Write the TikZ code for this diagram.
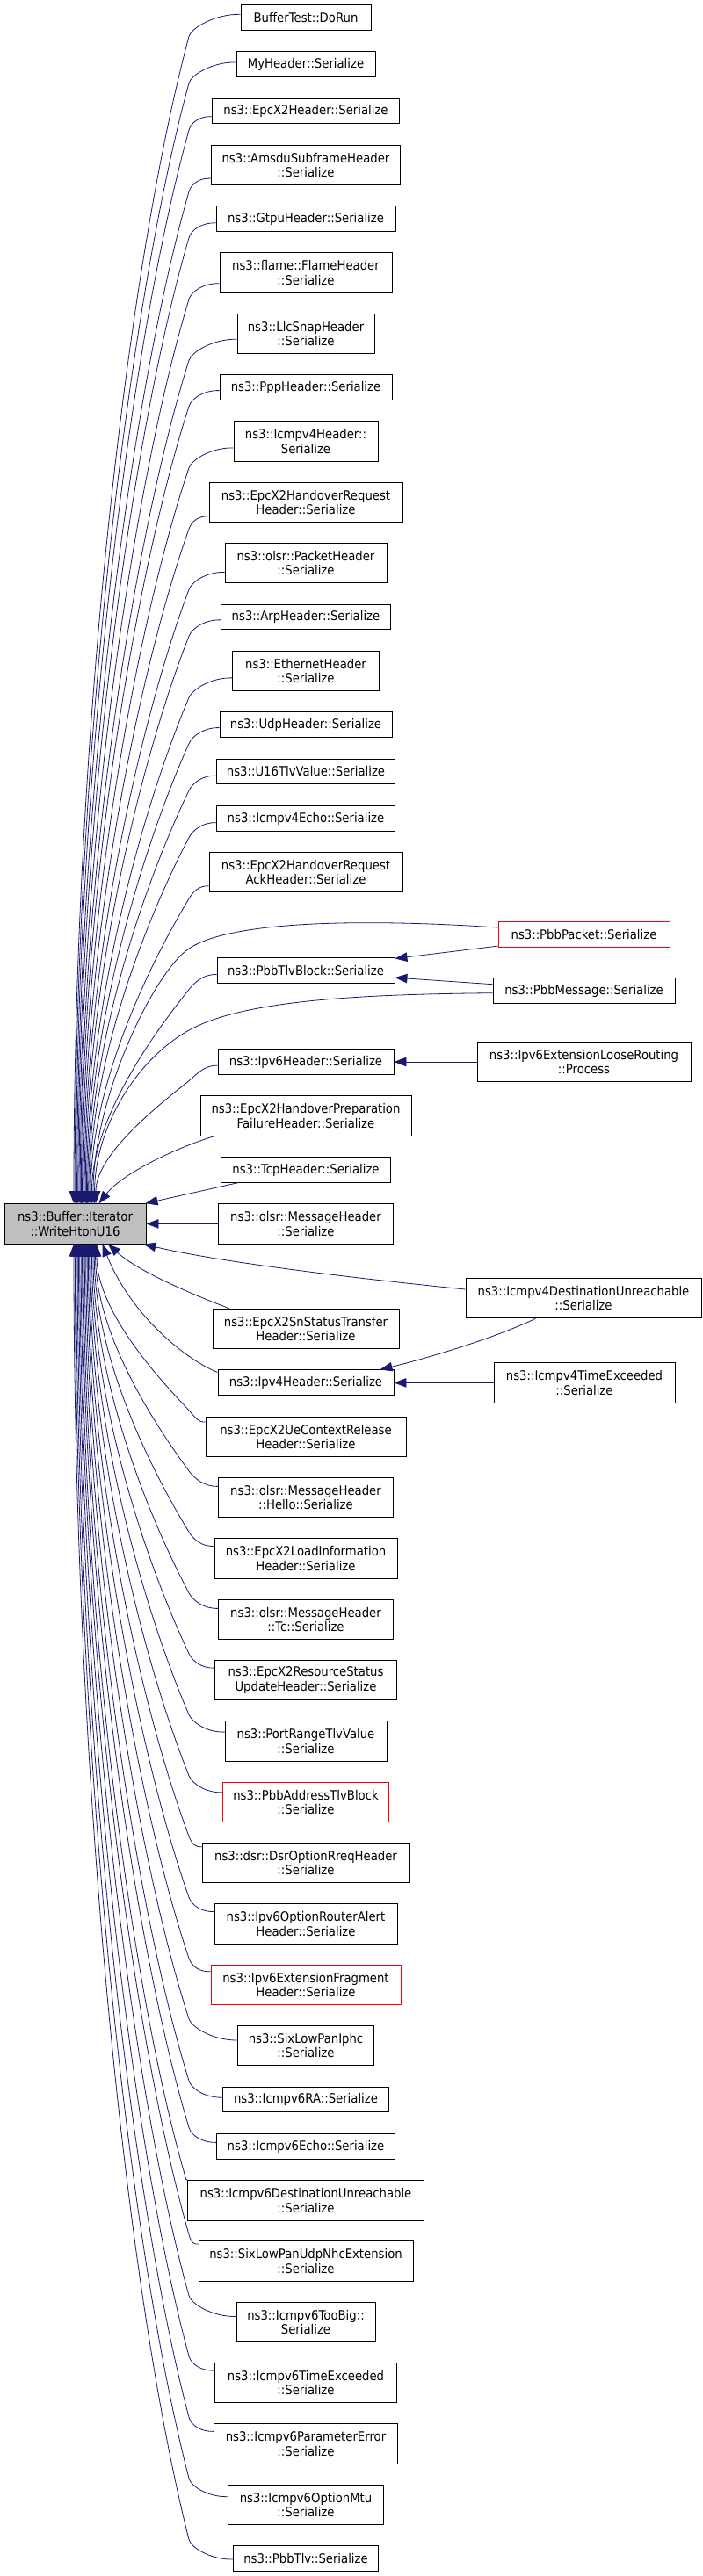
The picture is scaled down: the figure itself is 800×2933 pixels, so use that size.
\documentclass[tikz,border=0pt]{standalone}
\usepackage{fontspec}
\setmainfont{DejaVu Sans}[FakeStretch=0.9]
\usetikzlibrary{arrows.meta,calc}
\definecolor{edgeblue}{HTML}{191970}
\definecolor{maingray}{HTML}{BFBFBF}
\begin{document}
\begin{tikzpicture}[x=1pt,y=-1pt,
  box/.style={draw=black,line width=0.9pt,fill=white,align=center,inner sep=1pt,
    font=\fontsize{14.7}{16.7}\selectfont},
  sbox/.style={box,minimum height=28.3},
  dbox/.style={box,minimum height=45.5},
  redbox/.style={draw=red},
  edge/.style={draw=edgeblue,line width=0.8pt,-{Triangle[length=14pt,width=10.5pt]}}]
\useasboundingbox (0,0) rectangle (800,2933);

% ---- column nodes (callers) ----
\node[sbox,minimum width=148] (bt) at (348,19.9) {BufferTest::DoRun};
\node[sbox,minimum width=158] (mh) at (348,73) {MyHeader::Serialize};
\node[sbox,minimum width=213] (x2h) at (348,126.5) {ns3::EpcX2Header::Serialize};
\node[dbox,minimum width=215] (ams) at (348,188) {ns3::AmsduSubframeHeader\\::Serialize};
\node[sbox,minimum width=204] (gtp) at (348,249) {ns3::GtpuHeader::Serialize};
\node[dbox,minimum width=196] (fla) at (348,310.5) {ns3::flame::FlameHeader\\::Serialize};
\node[dbox,minimum width=156] (llc) at (348,380) {ns3::LlcSnapHeader\\::Serialize};
\node[sbox,minimum width=196] (ppp) at (348,441) {ns3::PppHeader::Serialize};
\node[dbox,minimum width=164] (i4h) at (348,502.5) {ns3::Icmpv4Header::\\Serialize};
\node[dbox,minimum width=220] (hrq) at (348,572) {ns3::EpcX2HandoverRequest\\Header::Serialize};
\node[dbox,minimum width=184] (opk) at (348,641) {ns3::olsr::PacketHeader\\::Serialize};
\node[sbox,minimum width=193] (arp) at (348,702.7) {ns3::ArpHeader::Serialize};
\node[dbox,minimum width=167] (eth) at (348,764) {ns3::EthernetHeader\\::Serialize};
\node[sbox,minimum width=196] (udp) at (348,825) {ns3::UdpHeader::Serialize};
\node[sbox,minimum width=203] (u16) at (348,878.5) {ns3::U16TlvValue::Serialize};
\node[sbox,minimum width=203] (i4e) at (348,932) {ns3::Icmpv4Echo::Serialize};
\node[dbox,minimum width=220] (hra) at (348,993) {ns3::EpcX2HandoverRequest\\AckHeader::Serialize};
\node[sbox,minimum width=195,redbox] (pp) at (664.5,1064) {ns3::PbbPacket::Serialize};
\node[sbox,minimum width=202] (ptb) at (348,1105) {ns3::PbbTlvBlock::Serialize};
\node[sbox,minimum width=207] (pm) at (664.5,1128) {ns3::PbbMessage::Serialize};
\node[sbox,minimum width=200] (i6h) at (348,1209) {ns3::Ipv6Header::Serialize};
\node[dbox,minimum width=243] (lr) at (664.5,1209) {ns3::Ipv6ExtensionLooseRouting\\::Process};
\node[dbox,minimum width=240] (hp) at (348,1270.3) {ns3::EpcX2HandoverPreparation\\FailureHeader::Serialize};
\node[sbox,minimum width=193] (tcp) at (348,1332) {ns3::TcpHeader::Serialize};
\node[dbox,minimum width=161,fill=maingray] (main) at (85.5,1393.4) {ns3::Buffer::Iterator\\::WriteHtonU16};
\node[dbox,minimum width=199] (omh) at (348,1393.4) {ns3::olsr::MessageHeader\\::Serialize};
\node[dbox,minimum width=268] (i4du) at (664,1478) {ns3::Icmpv4DestinationUnreachable\\::Serialize};
\node[dbox,minimum width=212] (sn) at (348,1513) {ns3::EpcX2SnStatusTransfer\\Header::Serialize};
\node[sbox,minimum width=200] (i4) at (348,1574) {ns3::Ipv4Header::Serialize};
\node[dbox,minimum width=206] (i4te) at (665,1574.4) {ns3::Icmpv4TimeExceeded\\::Serialize};
\node[dbox,minimum width=228] (ue) at (348,1636) {ns3::EpcX2UeContextRelease\\Header::Serialize};
\node[dbox,minimum width=199] (hel) at (348,1705) {ns3::olsr::MessageHeader\\::Hello::Serialize};
\node[dbox,minimum width=208] (li) at (348,1774.5) {ns3::EpcX2LoadInformation\\Header::Serialize};
\node[dbox,minimum width=199] (tc) at (348,1844) {ns3::olsr::MessageHeader\\::Tc::Serialize};
\node[dbox,minimum width=207] (rs) at (348,1913) {ns3::EpcX2ResourceStatus\\UpdateHeader::Serialize};
\node[dbox,minimum width=184] (pr) at (348,1982.5) {ns3::PortRangeTlvValue\\::Serialize};
\node[dbox,minimum width=189,redbox] (pat) at (348,2052) {ns3::PbbAddressTlvBlock\\::Serialize};
\node[dbox,minimum width=236] (dsr) at (348,2121) {ns3::dsr::DsrOptionRreqHeader\\::Serialize};
\node[dbox,minimum width=208] (ra6) at (348,2190.5) {ns3::Ipv6OptionRouterAlert\\Header::Serialize};
\node[dbox,minimum width=216,redbox] (frag) at (348,2260) {ns3::Ipv6ExtensionFragment\\Header::Serialize};
\node[dbox,minimum width=155] (iphc) at (348,2329) {ns3::SixLowPanIphc\\::Serialize};
\node[sbox,minimum width=189] (i6ra) at (348,2390.7) {ns3::Icmpv6RA::Serialize};
\node[sbox,minimum width=203] (i6e) at (348,2444) {ns3::Icmpv6Echo::Serialize};
\node[dbox,minimum width=269] (i6du) at (348,2505.3) {ns3::Icmpv6DestinationUnreachable\\::Serialize};
\node[dbox,minimum width=244] (nhc) at (348,2574.5) {ns3::SixLowPanUdpNhcExtension\\::Serialize};
\node[dbox,minimum width=158] (tb) at (348,2644) {ns3::Icmpv6TooBig::\\Serialize};
\node[dbox,minimum width=207] (te) at (348,2713) {ns3::Icmpv6TimeExceeded\\::Serialize};
\node[dbox,minimum width=209] (pe) at (348,2782.5) {ns3::Icmpv6ParameterError\\::Serialize};
\node[dbox,minimum width=177] (mtu) at (348,2852) {ns3::Icmpv6OptionMtu\\::Serialize};
\node[sbox,minimum width=165] (tlv) at (348,2913) {ns3::PbbTlv::Serialize};

% ---- generic edges from boxes above the main node ----
\foreach \nm/\ww/\cc/\hh/\tx in {bt/148/19.9/28.3/84, mh/158/73/28.3/85.2,
  x2h/213/126.5/28.3/86.4, ams/215/188/45.5/87.6, gtp/204/249/28.3/88.8,
  fla/196/310.5/45.5/90, llc/156/380/45.5/91.2, ppp/196/441/28.3/92.4,
  i4h/164/502.5/45.5/93.6, hrq/220/572/45.5/94.8, opk/184/641/45.5/96,
  arp/193/702.7/28.3/97.2, eth/167/764/45.5/98.4, udp/196/825/28.3/99.6,
  u16/203/878.5/28.3/100.8, i4e/203/932/28.3/102, hra/220/993/45.5/103.2,
  ptb/202/1105/28.3/104.4, i6h/200/1209/28.3/109}{
  \pgfmathsetmacro\xl{348-\ww/2}
  \pgfmathsetmacro\bx{min(215,\xl-4)}
  \pgfmathsetmacro\off{8+(\xl-240)*0.3}
  \pgfmathsetmacro\sy{\cc+\hh/2-\off}
  \pgfmathsetmacro\dd{8+(\xl-\bx)*0.3}
  \pgfmathsetmacro\by{\sy+\dd}
  \pgfmathsetmacro\dy{1370.65-\by}
  \pgfmathsetmacro\sz{1.5*(\tx-\bx)/\dy-0.12}
  \pgfmathsetmacro\cax{\bx+(\sz)*0.2*\dy}
  \pgfmathsetmacro\cay{\by+0.2*\dy}
  \pgfmathsetmacro\cby{1370.65-0.4*\dy}
  \pgfmathsetmacro\nn{sqrt((\sz)*(\sz)+1)}
  \pgfmathsetmacro\pax{(\xl+\bx)/2}
  \pgfmathsetmacro\pbx{\bx-10*(\sz)/\nn}
  \pgfmathsetmacro\pby{\by-10/\nn}
  \pgfmathsetmacro\sh{\tx-85.5}
  \draw[edge] ([yshift=\off pt]\nm.south west) .. controls (\pax,\sy) and (\pbx,\pby) .. (\bx,\by)
     .. controls (\cax,\cay) and (\tx,\cby) .. ([xshift=\sh pt]main.north);
}

% ---- generic edges from boxes below the main node ----
\foreach \nm/\ww/\cc/\hh/\tx in {ue/228/1636/45.5/110, hel/199/1705/45.5/108.6,
  li/208/1774.5/45.5/107.3, tc/199/1844/45.5/105.9, rs/207/1913/45.5/104.5,
  pr/184/1982.5/45.5/103.2, pat/189/2052/45.5/101.8, dsr/236/2121/45.5/100.4,
  ra6/208/2190.5/45.5/99.1, frag/216/2260/45.5/97.7, iphc/155/2329/45.5/96.3,
  i6ra/189/2390.7/28.3/94.9, i6e/203/2444/28.3/93.6, i6du/269/2505.3/45.5/92.2,
  nhc/244/2574.5/45.5/90.8, tb/158/2644/45.5/89.5, te/207/2713/45.5/88.1,
  pe/209/2782.5/45.5/86.7, mtu/177/2852/45.5/85.4, tlv/165/2913/28.3/84}{
  \pgfmathsetmacro\xl{348-\ww/2}
  \pgfmathsetmacro\bx{min(215,\xl-4)}
  \pgfmathsetmacro\off{8+(\xl-240)*0.3}
  \pgfmathsetmacro\sy{\cc-\hh/2+\off}
  \pgfmathsetmacro\dd{8+(\xl-\bx)*0.3}
  \pgfmathsetmacro\by{\sy-\dd}
  \pgfmathsetmacro\dy{\by-1416.15}
  \pgfmathsetmacro\sz{1.5*(\tx-\bx)/\dy-0.12}
  \pgfmathsetmacro\cax{\bx+(\sz)*0.2*\dy}
  \pgfmathsetmacro\cay{\by-0.2*\dy}
  \pgfmathsetmacro\cby{1416.15+0.4*\dy}
  \pgfmathsetmacro\nn{sqrt((\sz)*(\sz)+1)}
  \pgfmathsetmacro\pax{(\xl+\bx)/2}
  \pgfmathsetmacro\pbx{\bx-10*(\sz)/\nn}
  \pgfmathsetmacro\pby{\by+10/\nn}
  \pgfmathsetmacro\sh{\tx-85.5}
  \pgfmathsetmacro\noff{-\off}
  \draw[edge] ([yshift=\noff pt]\nm.north west) .. controls (\pax,\sy) and (\pbx,\pby) .. (\bx,\by)
     .. controls (\cax,\cay) and (\tx,\cby) .. ([xshift=\sh pt]main.south);
}

% ---- special edges ----
\draw[edge] ([yshift=8pt]pp.west) .. controls (400,1045) and (260,1050) .. (215,1080)
   .. controls (175,1107) and (106,1250) .. ([xshift=20.5pt]main.north);
\draw[edge] ([yshift=1.5pt]pp.south west) -- ([yshift=-1pt]ptb.north east);
\draw[edge] ([yshift=7.3pt]pm.west) -- ([yshift=6.5pt]ptb.south east);
\draw[edge] ([yshift=-2.7pt]pm.west) .. controls (420,1132) and (290,1138) .. (225,1168)
   .. controls (160,1198) and (108,1280) .. ([xshift=22pt]main.north);
\draw[edge] (lr.west) -- (lr.west -| i6h.east);
\draw[edge] ([xshift=17pt]hp.south west) .. controls (205,1305) and (140,1335) .. ([xshift=27pt]main.north);
\draw[edge] ([xshift=20pt]tcp.south west) -- ([xshift=-1pt]main.north east);
\draw[edge] (omh.west) -- (main.east);
\draw[edge] ([yshift=10pt]i4du.west) .. controls (400,1455) and (250,1437) .. ([xshift=-3pt]main.south east);
\draw[edge] ([xshift=80pt]i4du.south west) .. controls (560,1525) and (480,1548) .. ([xshift=-16pt]i4.north east);
\draw[edge] (i4te.west) -- (i4te.west -| i4.east);
\draw[edge] ([xshift=19.5pt]sn.north west) .. controls (230,1478) and (160,1450) .. ([xshift=37.5pt]main.south);
\draw[edge] ([yshift=-3pt]i4.north west) .. controls (215,1550) and (150,1500) .. ([xshift=31pt]main.south);
\end{tikzpicture}
\end{document}
